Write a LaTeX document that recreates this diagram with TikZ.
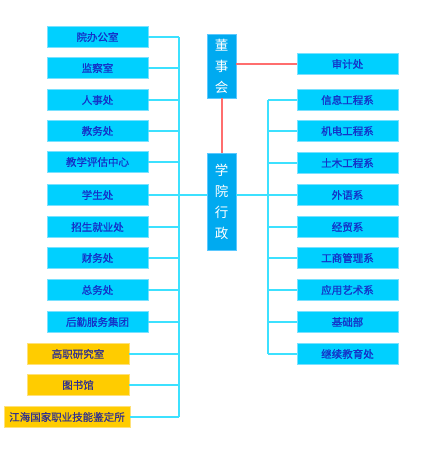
\documentclass[tikz,border=0pt]{standalone}
\usepackage{fontspec}
\setmainfont{Noto Sans CJK SC}
\newfontfamily\boxfont[FakeBold=1]{Noto Sans CJK SC}
\begin{document}
\begin{tikzpicture}[x=1pt,y=-1pt,
  cbox/.style={draw=boxedge,line width=0.8pt,fill=boxcyan,minimum width=101pt,minimum height=21pt,inner sep=0pt,font=\boxfont\fontsize{10.5}{11}\selectfont,text=txtblue},
  ybox/.style={draw=yedge,line width=0.8pt,fill=boxyellow,minimum height=21pt,inner sep=0pt,font=\boxfont\fontsize{10.5}{11}\selectfont,text=ytxt},
  mbox/.style={draw=medge,line width=0.8pt,fill=boxmid,minimum width=29pt,inner sep=0pt,font=\fontsize{13.5}{21}\selectfont,text=white,align=center},
  cline/.style={draw=linecyan,line width=1.3pt},
  rline/.style={draw=linered,line width=2pt}]
\definecolor{boxcyan}{RGB}{0,208,255}
\definecolor{boxedge}{RGB}{120,225,255}
\definecolor{txtblue}{RGB}{20,50,200}
\definecolor{boxyellow}{RGB}{255,204,0}
\definecolor{yedge}{RGB}{255,225,120}
\definecolor{ytxt}{RGB}{50,50,140}
\definecolor{boxmid}{RGB}{0,170,240}
\definecolor{medge}{RGB}{90,200,255}
\definecolor{linecyan}{RGB}{60,225,255}
\definecolor{linered}{RGB}{255,110,110}
\useasboundingbox (0,0) rectangle (440,453);
% middle
\node[mbox,minimum height=64pt] (dsh) at (221.5,66) {董\\事\\会};
\node[mbox,minimum height=97pt] (xy) at (221.5,201.5) {学\\院\\行\\政};
% left column
\foreach \n/\y/\t in {l1/37/院办公室,l2/68/监察室,l3/100/人事处,l4/131/教务处,l5/162/教学评估中心,l6/195/学生处,l7/227/招生就业处,l8/258/财务处,l9/290/总务处,l10/322/后勤服务集团}
  \node[cbox] (\n) at (97.5,\y) {\t};
\node[ybox,minimum width=102pt] (y1) at (78,354) {高职研究室};
\node[ybox,minimum width=102pt] (y2) at (78,385) {图书馆};
\node[ybox,minimum width=126pt] (y3) at (67,417) {江海国家职业技能鉴定所};
% right column
\node[cbox] (sj) at (347.5,64) {审计处};
\foreach \n/\y/\t in {r1/100/信息工程系,r2/131/机电工程系,r3/163/土木工程系,r4/195/外语系,r5/227/经贸系,r6/258/工商管理系,r7/290/应用艺术系,r8/322/基础部,r9/354/继续教育处}
  \node[cbox] (\n) at (347.5,\y) {\t};
% coordinates for spines
\coordinate (ls) at (179,195);
\coordinate (rs) at (268,195);
% left connectors
\foreach \n in {l1,l2,l3,l4,l5,l6,l7,l8,l9,l10,y1,y2,y3}
  \draw[cline] (\n.east) -- (\n.east -| ls);
\draw[cline] (l1.east -| ls) -- (y3.east -| ls);
\draw[cline] (ls) -- (xy.west |- ls);
% right connectors
\foreach \n in {r1,r2,r3,r4,r5,r6,r7,r8,r9}
  \draw[cline] (\n.west) -- (\n.west -| rs);
\draw[cline] (r1.west -| rs) -- (r9.west -| rs);
\draw[cline] (xy.east |- rs) -- (rs);
% red
\draw[rline] (dsh.south) -- (xy.north);
\draw[rline] (dsh.east |- sj.west) -- (sj.west);
\end{tikzpicture}
\end{document}
